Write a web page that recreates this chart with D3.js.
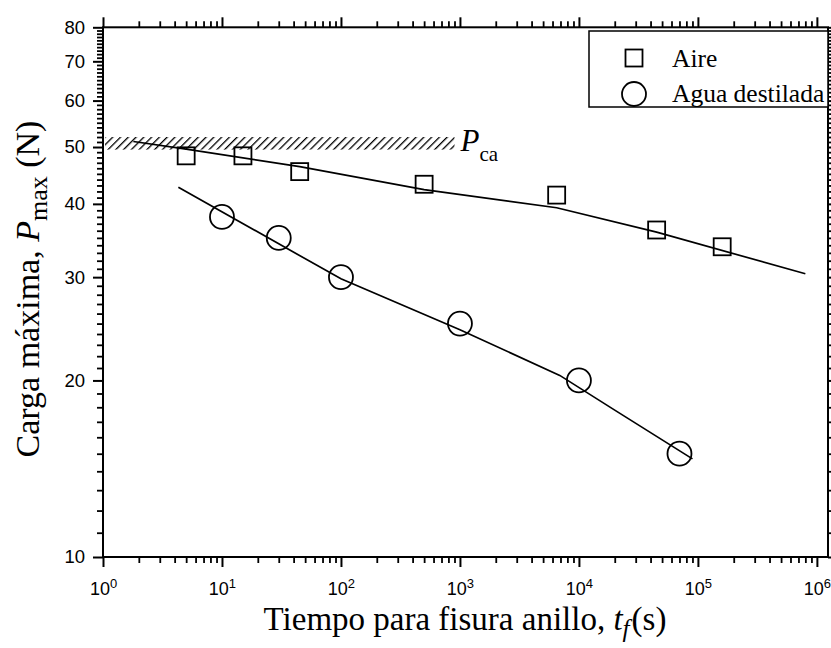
<!DOCTYPE html>
<html>
<head>
<meta charset="utf-8">
<script src="https://cdn.jsdelivr.net/npm/d3@7"></script>
<style>
  body { margin: 0; background: #fff; }
  .tick text { font-family: "Liberation Sans", Arial, sans-serif; }
</style>
</head>
<body>
<div id="chart"></div>
<script>

// data (time in s, load in N)
const aireTime = [5, 15, 45, 500, 6500, 45000, 160000]
const aireLoad = [48.3, 48.3, 45.4, 43.2, 41.4, 36.1, 33.8]

const aguaTime = [10, 30, 100, 1000, 10000, 70000]
const aguaLoad = [38, 35, 30, 25, 20, 15]

// fitted curves as drawn
const aireFitTime = [1.8, 5, 45, 500, 6500, 45000, 800000]
const aireFitLoad = [51.1, 49.6, 46.3, 42.3, 39.4, 35.8, 30.4]

const aguaFitTime = [4.3, 100, 1000, 6900, 20000, 90000]
const aguaFitLoad = [42.7, 29.8, 24.4, 20.4, 17.8, 14.7]

// critical load band
const bandTime = [1, 900]
const bandLoad = [49.5, 52]

const xMajor = [1, 10, 100, 1000, 10000, 100000, 1000000]
const yMajor = [10, 20, 30, 40, 50, 60, 70, 80]

const legendNames = ['Aire', 'Agua destilada']

const width = 831
const height = 648
const margin = { top: 27.3, right: 3, bottom: 91, left: 103 }

const svg = d3.select('#chart').append('svg')
  .attr('width', width)
  .attr('height', height)
  .style('font-family', '"Liberation Serif", "Times New Roman", serif')

const x = d3.scaleLog()
  .domain([1, 1.24e6])
  .range([margin.left, width - margin.right])

const y = d3.scaleLog()
  .domain([10, 80])
  .range([height - margin.bottom, margin.top])

const xMinor = []
xMajor.slice(0, -1).forEach(d => { for (let k = 2; k < 10; k++) xMinor.push(d * k) })
const yMinor = d3.range(11, 80).filter(v => v % 10)

const xlo = x.range()[0], xhi = x.range()[1]
const ylo = y.range()[0], yhi = y.range()[1]

function drawAxis(axisFn, scale, pos, major, minor, labels) {
  const gMin = svg.append('g')
    .attr('transform', pos)
    .call(axisFn(scale).tickValues(minor).tickSize(6).tickSizeOuter(0).tickFormat(() => ''))
  gMin.select('.domain').remove()
  gMin.selectAll('.tick line').attr('stroke', '#000').attr('stroke-width', 1.8)

  const g = svg.append('g')
    .attr('transform', pos)
    .call(axisFn(scale).tickValues(major).tickSize(10).tickSizeOuter(0).tickPadding(8))
  g.select('.domain').remove()
  g.selectAll('.tick line').attr('stroke', '#000').attr('stroke-width', 2)
  if (!labels) g.selectAll('.tick text').remove()
  return g
}

// hatched band
const defs = svg.append('defs')
defs.append('pattern')
    .attr('id', 'hatch')
    .attr('patternUnits', 'userSpaceOnUse')
    .attr('width', 5.5)
    .attr('height', 5.5)
    .attr('patternTransform', 'rotate(45)')
  .append('line')
    .attr('x1', 0).attr('y1', 0)
    .attr('x2', 0).attr('y2', 5.5)
    .attr('stroke', '#000')
    .attr('stroke-width', 2.6)

svg.append('rect')
  .attr('x', x(bandTime[0]) + 2)
  .attr('y', y(bandLoad[1]))
  .attr('width', x(bandTime[1]) - x(bandTime[0]) - 2)
  .attr('height', y(bandLoad[0]) - y(bandLoad[1]))
  .attr('fill', 'url(#hatch)')

// axes
const gx = drawAxis(d3.axisBottom, x, `translate(0,${ylo})`, xMajor, xMinor, true)
gx.selectAll('.tick text').text(null)
  .attr('font-size', 18)
  .attr('dy', '0.71em')
  .attr('y', 25)
  .each(function(d) {
    const t = d3.select(this)
    t.append('tspan').text('10')
    t.append('tspan').attr('dy', '-0.55em').attr('font-size', 13).text(Math.round(Math.log10(d)))
  })

drawAxis(d3.axisTop, x, `translate(0,${yhi})`, xMajor, xMinor, false)

const gy = drawAxis(d3.axisLeft, y, `translate(${xlo},0)`, yMajor, yMinor, true)
gy.selectAll('.tick text')
  .attr('font-size', 18.5)
  .text(d => d)

drawAxis(d3.axisRight, y, `translate(${xhi},0)`, yMajor, yMinor, false)

// frame
svg.append('rect')
  .attr('x', xlo).attr('y', yhi)
  .attr('width', xhi - xlo).attr('height', ylo - yhi)
  .attr('fill', 'none')
  .attr('stroke', '#000')
  .attr('stroke-width', 2)

// fitted lines
const line = d3.line()
  .x(d => x(d[0]))
  .y(d => y(d[1]))

svg.append('path')
  .datum(d3.zip(aireFitTime, aireFitLoad))
  .attr('d', line)
  .attr('fill', 'none')
  .attr('stroke', '#000')
  .attr('stroke-width', 1.7)

svg.append('path')
  .datum(d3.zip(aguaFitTime, aguaFitLoad))
  .attr('d', line)
  .attr('fill', 'none')
  .attr('stroke', '#000')
  .attr('stroke-width', 1.7)

// markers
const sq = 17
svg.append('g').selectAll('rect')
  .data(d3.zip(aireTime, aireLoad))
  .join('rect')
    .attr('x', d => x(d[0]) - sq / 2)
    .attr('y', d => y(d[1]) - sq / 2)
    .attr('width', sq)
    .attr('height', sq)
    .attr('fill', 'none')
    .attr('stroke', '#000')
    .attr('stroke-width', 1.8)

svg.append('g').selectAll('circle')
  .data(d3.zip(aguaTime, aguaLoad))
  .join('circle')
    .attr('cx', d => x(d[0]))
    .attr('cy', d => y(d[1]))
    .attr('r', 12)
    .attr('fill', 'none')
    .attr('stroke', '#000')
    .attr('stroke-width', 1.8)

// P_ca label
const pca = svg.append('text')
  .attr('x', x(bandTime[1]) + 6)
  .attr('y', y(bandLoad[0]) + 1)
  .attr('font-size', 31)
pca.append('tspan').attr('font-style', 'italic').text('P')
pca.append('tspan').attr('dy', 10).attr('font-size', 21).text('ca')

// legend
const lg = svg.append('g').attr('transform', 'translate(589,31)')
lg.append('rect')
  .attr('width', 239)
  .attr('height', 76)
  .attr('fill', '#fff')
  .attr('stroke', '#000')
  .attr('stroke-width', 1.5)
lg.append('rect')
  .attr('x', 36.5).attr('y', 18.5)
  .attr('width', 17).attr('height', 17)
  .attr('fill', 'none').attr('stroke', '#000').attr('stroke-width', 1.8)
lg.append('circle')
  .attr('cx', 45).attr('cy', 63).attr('r', 12)
  .attr('fill', 'none').attr('stroke', '#000').attr('stroke-width', 1.8)
lg.selectAll('text.name')
  .data(legendNames)
  .join('text')
    .attr('class', 'name')
    .attr('x', 83)
    .attr('y', (d, i) => 36 + i * 35)
    .attr('font-size', 25.5)
    .text(d => d)

// axis titles
const xt = svg.append('text')
  .attr('x', 465)
  .attr('y', 630)
  .attr('text-anchor', 'middle')
  .attr('font-size', 33)
xt.append('tspan').text('Tiempo para fisura anillo, ')
xt.append('tspan').attr('font-style', 'italic').text('t')
xt.append('tspan').attr('font-style', 'italic').attr('font-size', 25).attr('dy', 7).text('f')
xt.append('tspan').attr('dy', -7).attr('dx', 2).text('(s)')

const yt = svg.append('text')
  .attr('transform', 'translate(39,289) rotate(-90)')
  .attr('text-anchor', 'middle')
  .attr('font-size', 34)
yt.append('tspan').text('Carga máxima, ')
yt.append('tspan').attr('font-style', 'italic').text('P')
yt.append('tspan').attr('font-size', 26).attr('dy', 8).text('max')
yt.append('tspan').attr('dy', -8).text(' (N)')

</script>
</body>
</html>
